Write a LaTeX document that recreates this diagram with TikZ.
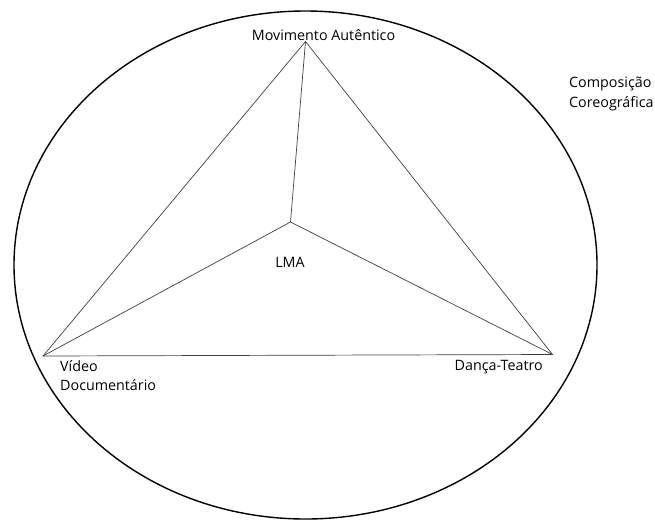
\documentclass[tikz,border=0pt]{standalone}
\usepackage{fontspec}
\setmainfont{Open Sans}
\begin{document}
\begin{tikzpicture}[x=1pt,y=-1pt,
  lbl/.style={font=\fontsize{14.3}{19.5}\selectfont, inner sep=0pt},
  edge/.style={draw=black!75, line width=0.7pt},
  rim/.style={draw=black, line width=1.4pt}]
\useasboundingbox (0,0) rectangle (655,520);
\draw[rim] (305.5,265) ellipse [x radius=291.5, y radius=254];
\coordinate (T) at (305.5,41.5);
\coordinate (L) at (43,356);
\coordinate (R) at (552.5,354.5);
\coordinate (C) at (290.5,222);
\draw[edge] (T) -- (L) -- (R) -- cycle;
\draw[edge] (C) -- (T);
\draw[edge] (C) -- (L);
\draw[edge] (C) -- (R);
\node[lbl] (ma) at (323.5,35) {Movimento Autêntico};
\node[lbl] (lma) at (290,262) {LMA};
\node[lbl, anchor=north west, align=left] (vd) at (60,360) {Vídeo\\Documentário};
\node[lbl, anchor=base east] (dt) at (543,370) {Dança-Teatro};
\node[lbl, anchor=north west, align=left] (cc) at (569,77) {Composição\\Coreográfica};
\end{tikzpicture}
\end{document}
